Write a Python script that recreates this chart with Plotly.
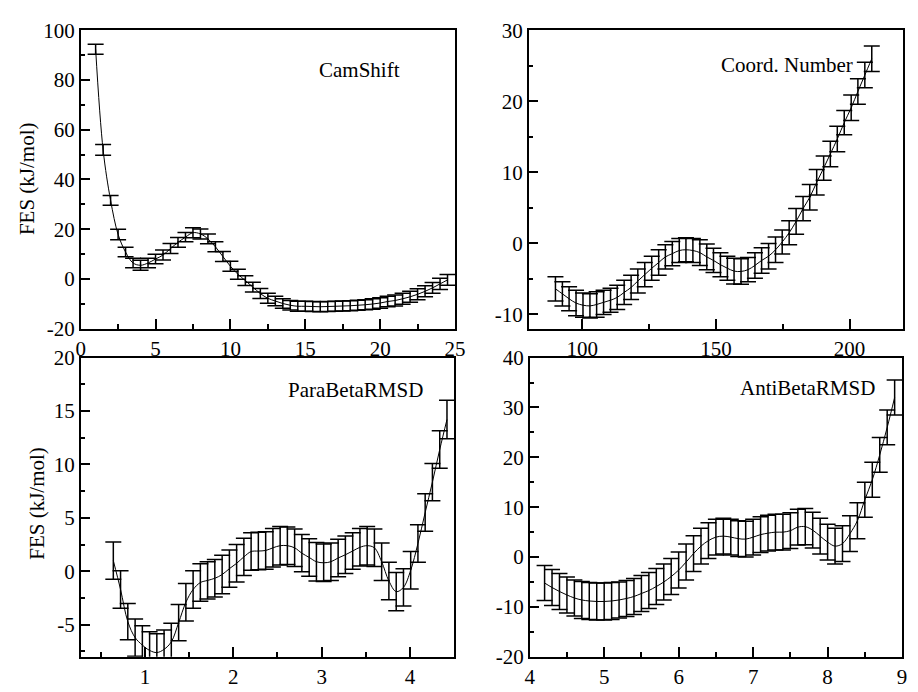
import plotly.graph_objects as go

# ---------------- data ----------------
# Panel 1: CamShift
cam_x = [1.0, 1.5, 2.0, 2.5, 3.0, 3.5, 4.0, 4.5, 5.0, 5.5, 6.0, 6.5, 7.0, 7.5, 8.0, 8.5,
         9.0, 9.5, 10.0, 10.5, 11.0, 11.5, 12.0, 12.5, 13.0, 13.5, 14.0, 14.5, 15.0, 15.5,
         16.0, 16.5, 17.0, 17.5, 18.0, 18.5, 19.0, 19.5, 20.0, 20.5, 21.0, 21.5, 22.0,
         22.5, 23.0, 23.5, 24.0, 24.5]
cam_y = [92.4, 51.9, 31.6, 17.9, 10.8, 6.4, 5.5, 6.4, 8.0, 9.6, 12.2, 14.7, 16.8, 18.6,
         18.1, 16.1, 12.9, 9.0, 5.1, 1.9, -0.7, -3.3, -5.9, -7.8, -8.9, -9.9, -10.6, -11.0,
         -11.0, -11.1, -11.2, -11.1, -11.0, -10.9, -10.8, -10.6, -10.4, -10.1, -9.7, -9.1,
         -8.7, -8.0, -7.2, -6.2, -5.0, -3.6, -2.0, -0.4]
cam_err = [2.0, 2.2, 2.0, 2.1, 1.9, 1.9, 2.0, 1.9, 1.9, 2.0, 2.0, 2.0, 1.9, 2.0,
           2.0, 2.0, 2.0, 2.0, 2.0, 2.0, 2.0, 2.0, 2.0, 2.0, 1.9, 1.9, 1.9, 2.0,
           2.0, 2.0, 2.0, 2.0, 2.0, 2.0, 2.0, 2.0, 2.0, 2.1, 2.1, 2.1,
           2.2, 2.2, 2.2, 2.2, 2.2, 2.2, 2.3, 2.2]

# Panel 2: Coord. Number
cn_x = [90.0, 92.6, 95.1, 97.7, 100.3, 102.9, 105.4, 108.0, 110.6, 113.1, 115.7, 118.3,
        120.8, 123.4, 126.0, 128.6, 131.1, 133.7, 136.3, 138.8, 141.4, 144.0, 146.6,
        149.1, 151.7, 154.3, 156.8, 159.4, 162.0, 164.6, 167.1, 169.7, 172.3, 174.8,
        177.4, 180.0, 182.6, 185.1, 187.7, 190.3, 192.8, 195.4, 198.0, 200.6, 203.1,
        205.7, 208.3]
cn_y = [-6.4, -7.1, -7.8, -8.4, -8.7, -8.8, -8.6, -8.3, -8.0, -7.6, -6.9, -6.2, -5.3,
        -4.4, -3.5, -2.7, -1.9, -1.45, -1.0, -0.9, -1.0, -1.3, -1.9, -2.4, -3.0, -3.5,
        -3.9, -3.95, -3.7, -3.1, -2.4, -1.8, -0.9, 0.2, 1.5, 3.1, 4.9, 6.5, 8.6, 10.6,
        12.6, 14.7, 17.0, 19.1, 21.4, 23.7, 26.0]
cn_err = [1.7, 1.7, 1.7, 1.8, 1.7, 1.7, 1.8, 1.7, 1.7, 1.7, 1.7, 1.7, 1.7,
          1.7, 1.7, 1.8, 1.7, 1.7, 1.7, 1.7, 1.7, 1.8, 1.8, 1.7, 1.7, 1.7,
          1.8, 1.8, 1.7, 1.8, 1.8, 1.8, 1.8, 1.7, 1.7, 1.8, 1.7, 1.8, 1.8, 1.7,
          1.8, 1.8, 1.7, 1.8, 1.8, 1.8, 1.8]

# Panel 3: ParaBetaRMSD
pb_x = [0.640, 0.722, 0.804, 0.887, 0.969, 1.051, 1.133, 1.215, 1.297, 1.380, 1.462,
        1.544, 1.626, 1.708, 1.790, 1.873, 1.955, 2.037, 2.119, 2.201, 2.283, 2.366,
        2.448, 2.530, 2.612, 2.694, 2.776, 2.859, 2.941, 3.023, 3.105, 3.187, 3.269,
        3.352, 3.434, 3.516, 3.598, 3.680, 3.762, 3.845, 3.927, 4.009, 4.091, 4.173,
        4.255, 4.338, 4.420]
pb_y = [1.0, -1.7, -4.7, -6.2, -6.9, -7.4, -7.6, -7.3, -6.6, -4.8, -2.9, -1.7, -1.05,
        -0.85, -0.65, -0.3, 0.25, 0.75, 1.35, 1.85, 1.9, 1.95, 2.2, 2.4, 2.4, 2.2, 1.7,
        1.3, 0.9, 0.8, 0.9, 1.25, 1.55, 1.9, 2.25, 2.4, 2.2, 0.9, -0.9, -1.9, -1.5, 0.1,
        2.6, 5.5, 8.35, 11.4, 14.2]
pb_err = [1.75, 1.75, 1.7, 1.75, 1.8, 1.75, 1.75, 1.8, 1.75, 1.7, 1.75, 1.75, 1.75,
          1.75, 1.75, 1.8, 1.75, 1.75, 1.75, 1.75, 1.75, 1.75, 1.8, 1.8, 1.75, 1.75,
          1.75, 1.75, 1.8, 1.75, 1.75, 1.75, 1.75, 1.7, 1.75, 1.8, 1.75, 1.75, 1.75,
          1.8, 1.75, 1.75, 1.75, 1.75, 1.75, 1.75, 1.8]

# Panel 4: AntiBetaRMSD
ab_x = [4.2, 4.3, 4.4, 4.5, 4.6, 4.7, 4.8, 4.9, 5.0, 5.1, 5.2, 5.3, 5.4, 5.5, 5.6, 5.7,
        5.8, 5.9, 6.0, 6.1, 6.2, 6.3, 6.4, 6.5, 6.6, 6.7, 6.8, 6.9, 7.0, 7.1, 7.2, 7.3,
        7.4, 7.5, 7.6, 7.7, 7.8, 7.9, 8.0, 8.1, 8.2, 8.3, 8.4, 8.5, 8.6, 8.7, 8.8, 8.9]
ab_y = [-5.2, -6.1, -6.9, -7.6, -8.2, -8.6, -8.8, -8.9, -8.9, -8.8, -8.6, -8.3, -7.9,
        -7.3, -6.7, -5.9, -5.0, -3.9, -2.6, -1.0, 0.7, 2.2, 3.3, 4.0, 4.2, 4.0, 3.7, 3.6,
        4.0, 4.5, 4.8, 5.0, 5.0, 5.3, 6.0, 6.1, 5.4, 4.2, 3.0, 2.2, 2.7, 4.7, 7.3, 11.5,
        15.5, 20.5, 26.0, 32.0]
ab_err = [3.5, 3.6, 3.6, 3.6, 3.6, 3.7, 3.7, 3.7, 3.7, 3.7, 3.6, 3.6, 3.6, 3.6, 3.6,
          3.6, 3.6, 3.6, 3.6, 3.6, 3.6, 3.6, 3.6, 3.6, 3.6, 3.6, 3.6, 3.6, 3.6, 3.6,
          3.6, 3.6, 3.6, 3.6, 3.6, 3.65, 3.6, 3.6, 3.6, 3.6, 3.6, 3.6, 3.6, 3.5, 3.5,
          3.5, 3.5, 3.5]

panel_titles = ["CamShift", "Coord. Number", "ParaBetaRMSD", "AntiBetaRMSD"]
y_title = "FES (kJ/mol)"

# tick values / labels
p1_xt = [0, 5, 10, 15, 20, 25]
p1_yt = [-20, 0, 20, 40, 60, 80, 100]
p2_xt = [100, 150, 200]
p2_yt = [-10, 0, 10, 20, 30]
p3_xt = [1, 2, 3, 4]
p3_yt = [-5, 0, 5, 10, 15, 20]
p4_xt = [4, 5, 6, 7, 8, 9]
p4_yt = [-20, -10, 0, 10, 20, 30, 40]

p1_xm = [2.5, 7.5, 12.5, 17.5, 22.5]
p1_ym = [-10, 10, 30, 50, 70, 90]
p2_xm = [125, 175]
p2_ym = [-5, 5, 15, 25]
p3_xm = [0.5, 1.5, 2.5, 3.5]
p3_ym = [-7.5, -2.5, 2.5, 7.5, 12.5, 17.5]
p4_xm = [4.5, 5.5, 6.5, 7.5, 8.5]
p4_ym = [-15, -5, 5, 15, 25, 35]

# ---------------- figure ----------------
W, H = 918, 692
FONT = "Liberation Serif"
FS = 21

fig = go.Figure()

series = [
    (cam_x, cam_y, cam_err, "x", "y"),
    (cn_x, cn_y, cn_err, "x2", "y2"),
    (pb_x, pb_y, pb_err, "x3", "y3"),
    (ab_x, ab_y, ab_err, "x4", "y4"),
]
for xs, ys, es, xa, ya in series:
    fig.add_trace(go.Scatter(
        x=xs, y=ys, mode="lines", xaxis=xa, yaxis=ya,
        line=dict(color="black", width=1, shape="spline", smoothing=1.0),
        error_y=dict(type="data", array=es, visible=True, color="black",
                     thickness=1.5, width=8),
        showlegend=False, hoverinfo="skip",
    ))


def fmt(v):
    return "%g" % v


def axis(domain, rng, tv, mv, anchor):
    return dict(
        domain=domain, range=rng, anchor=anchor,
        showline=True, linecolor="black", linewidth=1.5, mirror=True,
        showgrid=False, zeroline=False,
        ticks="inside", ticklen=10, tickwidth=1.5, tickcolor="black",
        tickmode="array", tickvals=tv, ticktext=[fmt(v) for v in tv],
        tickfont=dict(family=FONT, size=FS, color="black"),
        minor=dict(ticks="inside", ticklen=5, tickwidth=1.5, tickcolor="black",
                   tickmode="array", tickvals=mv, showgrid=False),
        fixedrange=True,
    )


def px_x(a, b):
    return [a / W, b / W]


def px_y(top, bottom):
    return [1 - bottom / H, 1 - top / H]


fig.update_layout(
    width=W, height=H,
    margin=dict(l=0, r=0, t=0, b=0),
    paper_bgcolor="white", plot_bgcolor="white",
    font=dict(family=FONT, color="black"),
    xaxis=axis(px_x(77, 458), [0, 25], p1_xt, p1_xm, "y"),
    yaxis=axis(px_y(19, 328), [-20, 100], p1_yt, p1_ym, "x"),
    xaxis2=axis(px_x(533, 914), [80, 220], p2_xt, p2_xm, "y2"),
    yaxis2=axis(px_y(19, 328), [-12, 30], p2_yt, p2_ym, "x2"),
    xaxis3=axis(px_x(77, 457), [0.27, 4.5], p3_xt, p3_xm, "y3"),
    yaxis3=axis(px_y(358, 668), [-8, 20], p3_yt, p3_ym, "x3"),
    xaxis4=axis(px_x(534, 913), [4, 9], p4_xt, p4_xm, "y4"),
    yaxis4=axis(px_y(358, 668), [-20, 40], p4_yt, p4_ym, "x4"),
)

# panel labels
label_pos = [(361, 60), (796, 55), (357, 392), (817, 390)]
for txt, (px, py) in zip(panel_titles, label_pos):
    fig.add_annotation(text=txt, x=px / W, y=1 - py / H, xref="paper", yref="paper",
                       showarrow=False, xanchor="center", yanchor="middle",
                       font=dict(family=FONT, size=FS, color="black"))

# y-axis titles
for (px, py) in [(22.5, 173), (33, 509)]:
    fig.add_annotation(text=y_title, x=px / W, y=1 - py / H, xref="paper", yref="paper",
                       showarrow=False, textangle=-90, xanchor="center", yanchor="middle",
                       font=dict(family=FONT, size=FS, color="black"))

fig.write_html("out.html")
